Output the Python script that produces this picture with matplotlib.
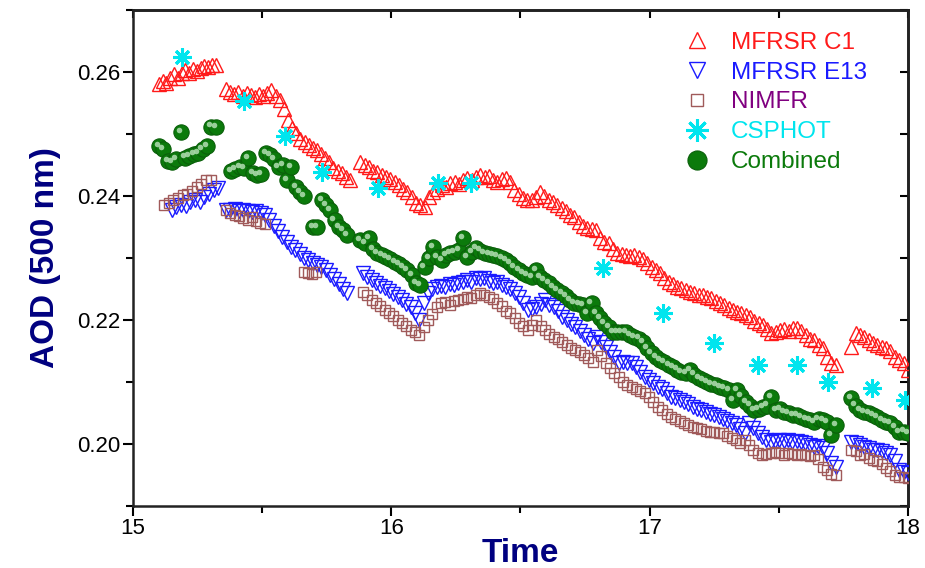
import matplotlib
matplotlib.use('Agg')
import matplotlib.pyplot as plt
import matplotlib.transforms as mtransforms
from matplotlib.ticker import MultipleLocator
import numpy as np

plt.rcParams['font.family'] = ['Liberation Sans', 'DejaVu Sans']

# AOD at 500 nm, one reading per minute, split where the record has gaps
# MFRSR C1 (red up-triangles)
c1_spans = [(15.10, 15.32), (15.36, 15.84), (15.88, 17.72), (17.78, 18.00)]
c1_vals = [
    [0.2580, 0.2585, 0.2583, 0.2591, 0.2596, 0.2590, 0.2599, 0.2603, 0.2598, 0.2605, 0.2601, 0.2607,
     0.2610, 0.2608, 0.2612, 0.2611],
    [0.2572, 0.2568, 0.2565, 0.2567, 0.2562, 0.2566, 0.2563, 0.2560, 0.2564, 0.2561, 0.2566, 0.2571,
     0.2562, 0.2555, 0.2540, 0.2523, 0.2510, 0.2502, 0.2492, 0.2487, 0.2482, 0.2478, 0.2474, 0.2468,
     0.2461, 0.2455, 0.2445, 0.2441, 0.2437, 0.2430, 0.2426],
    [0.2455, 0.2450, 0.2446, 0.2441, 0.2438, 0.2434, 0.2431, 0.2427, 0.2423, 0.2418, 0.2412, 0.2406,
     0.2398, 0.2389, 0.2385, 0.2382, 0.2398, 0.2406, 0.2412, 0.2418, 0.2415, 0.2421, 0.2423, 0.2420,
     0.2426, 0.2429, 0.2425, 0.2431, 0.2434, 0.2430, 0.2432, 0.2426, 0.2423, 0.2428, 0.2429, 0.2422,
     0.2410, 0.2404, 0.2397, 0.2393, 0.2394, 0.2398, 0.2406, 0.2400, 0.2394, 0.2390, 0.2386, 0.2381,
     0.2376, 0.2370, 0.2366, 0.2358, 0.2352, 0.2348, 0.2346, 0.2345, 0.2332, 0.2326, 0.2324, 0.2314,
     0.2308, 0.2306, 0.2305, 0.2303, 0.2305, 0.2302, 0.2298, 0.2292, 0.2286, 0.2280, 0.2276, 0.2268,
     0.2262, 0.2258, 0.2254, 0.2252, 0.2248, 0.2245, 0.2243, 0.2241, 0.2240, 0.2237, 0.2235, 0.2231,
     0.2227, 0.2224, 0.2219, 0.2216, 0.2213, 0.2211, 0.2208, 0.2205, 0.2198, 0.2195, 0.2192, 0.2186,
     0.2179, 0.2181, 0.2184, 0.2186, 0.2183, 0.2187, 0.2187, 0.2182, 0.2176, 0.2170, 0.2168, 0.2160,
     0.2155, 0.2140, 0.2131, 0.2127],
    [0.2156, 0.2179, 0.2176, 0.2173, 0.2168, 0.2163, 0.2160, 0.2156, 0.2155, 0.2150, 0.2140, 0.2135,
     0.2131, 0.2119],
]

# MFRSR E13 (blue down-triangles)
e13_spans = [(15.15, 15.33), (15.36, 15.83), (15.89, 17.72), (17.78, 18.00)]
e13_vals = [
    [0.2378, 0.2382, 0.2386, 0.2384, 0.2390, 0.2393, 0.2391, 0.2398, 0.2404, 0.2410, 0.2413],
    [0.2378, 0.2377, 0.2379, 0.2376, 0.2378, 0.2375, 0.2374, 0.2376, 0.2373, 0.2370, 0.2362, 0.2352,
     0.2343, 0.2334, 0.2325, 0.2318, 0.2313, 0.2306, 0.2300, 0.2297, 0.2292, 0.2288, 0.2285, 0.2280,
     0.2273, 0.2266, 0.2258, 0.2250, 0.2244],
    [0.2276, 0.2270, 0.2265, 0.2260, 0.2255, 0.2252, 0.2247, 0.2242, 0.2237, 0.2232, 0.2226, 0.2221,
     0.2212, 0.2200, 0.2228, 0.2244, 0.2250, 0.2253, 0.2255, 0.2253, 0.2258, 0.2256, 0.2260, 0.2262,
     0.2265, 0.2262, 0.2268, 0.2266, 0.2268, 0.2263, 0.2260, 0.2262, 0.2257, 0.2253, 0.2250, 0.2244,
     0.2237, 0.2228, 0.2216, 0.2218, 0.2221, 0.2226, 0.2232, 0.2224, 0.2221, 0.2214, 0.2205, 0.2200,
     0.2194, 0.2189, 0.2183, 0.2176, 0.2170, 0.2163, 0.2173, 0.2165, 0.2156, 0.2148, 0.2140, 0.2131,
     0.2133, 0.2131, 0.2130, 0.2124, 0.2116, 0.2108, 0.2103, 0.2098, 0.2092, 0.2088, 0.2082, 0.2076,
     0.2074, 0.2071, 0.2068, 0.2064, 0.2060, 0.2057, 0.2054, 0.2052, 0.2049, 0.2046, 0.2044, 0.2040,
     0.2037, 0.2034, 0.2030, 0.2024, 0.2018, 0.2034, 0.2026, 0.2018, 0.2011, 0.2007, 0.2003, 0.2005,
     0.2006, 0.2004, 0.2006, 0.2003, 0.2005, 0.2003, 0.2001, 0.1999, 0.1995, 0.1997, 0.1994, 0.1985,
     0.1969, 0.1963],
    [0.2003, 0.2001, 0.1998, 0.1995, 0.1993, 0.1990, 0.1991, 0.1988, 0.1985, 0.1983, 0.1972, 0.1958,
     0.1955, 0.1953],
]

# NIMFR (brown squares), nan where no reading
nimfr_spans = [(15.12, 15.30), (15.36, 15.71), (15.89, 17.72), (17.78, 18.00)]
nimfr_vals = [
    [0.2385, 0.2388, 0.2393, 0.2397, 0.2401, 0.2404, 0.2408, 0.2414, 0.2420, 0.2425, 0.2426],
    [0.2377, 0.2372, 0.2370, 0.2368, 0.2365, 0.2362, 0.2366, 0.2360, 0.2357, 0.2355,
     np.nan, np.nan, np.nan, np.nan, np.nan, np.nan, np.nan, np.nan,
     0.2278, 0.2276, 0.2274, 0.2277],
    [0.2245, 0.2240, 0.2232, 0.2228, 0.2222, 0.2216, 0.2212, 0.2206, 0.2200, 0.2195, 0.2190, 0.2184,
     0.2180, 0.2176, 0.2188, 0.2200, 0.2210, 0.2221, 0.2227, 0.2229, 0.2224, 0.2230, 0.2232, 0.2234,
     0.2237, 0.2235, 0.2240, 0.2244, 0.2241, 0.2237, 0.2234, 0.2227, 0.2222, 0.2215, 0.2211, 0.2203,
     0.2195, 0.2190, 0.2184, 0.2192, 0.2200, 0.2190, 0.2184, 0.2178, 0.2173, 0.2169, 0.2165, 0.2160,
     0.2155, 0.2152, 0.2148, 0.2144, 0.2138, 0.2132, 0.2152, 0.2142, 0.2131, 0.2122, 0.2115, 0.2108,
     0.2100, 0.2095, 0.2092, 0.2088, 0.2085, 0.2082, 0.2076, 0.2068, 0.2060, 0.2054, 0.2049, 0.2044,
     0.2040, 0.2037, 0.2034, 0.2031, 0.2028, 0.2026, 0.2024, 0.2021, 0.2019, 0.2020, 0.2018, 0.2017,
     0.2013, 0.2010, 0.2007, 0.2002, 0.2006, 0.1998, 0.1990, 0.1986, 0.1982, 0.1984, 0.1985, 0.1987,
     0.1985, 0.1983, 0.1985, 0.1984, 0.1982, 0.1984, 0.1982, 0.1980, 0.1983, 0.1975, 0.1963, 0.1958,
     0.1952, 0.1950],
    [0.1990, 0.1988, 0.1982, 0.1984, 0.1978, 0.1974, 0.1972, 0.1967, 0.1961, 0.1956, 0.1950, 0.1947,
     0.1946, 0.1945],
]

# CSPHOT (cyan asterisks), sparse
csphot_t = [15.19, 15.43, 15.59, 15.73, 15.95, 16.18, 16.31, 16.82, 17.05, 17.25, 17.42, 17.57,
            17.69, 17.86, 17.99]
csphot_v = [0.2624, 0.2553, 0.2496, 0.2439, 0.2413, 0.2421, 0.2421, 0.2284, 0.2212, 0.2163, 0.2127,
            0.2127, 0.2100, 0.2090, 0.2071]

# Combined (green spheres)
comb_spans = [(15.10, 15.32), (15.38, 15.83), (15.88, 17.72), (17.78, 18.00)]
comb_vals = [
    [0.2480, 0.2476, 0.2457, 0.2455, 0.2460, 0.2503, 0.2462, 0.2465, 0.2468, 0.2470, 0.2475, 0.2480,
     0.2512, 0.2511],
    [0.2440, 0.2444, 0.2446, 0.2445, 0.2461, 0.2437, 0.2434, 0.2435, 0.2469, 0.2466, 0.2460, 0.2447,
     0.2450, 0.2426, 0.2447, 0.2415, 0.2406, 0.2400, np.nan, 0.2350, 0.2350, 0.2394, 0.2385, 0.2377,
     0.2361, 0.2350, 0.2345, 0.2337],
    [0.2329, 0.2324, 0.2332, 0.2315, 0.2308, 0.2305, 0.2302, 0.2298, 0.2294, 0.2290, 0.2285, 0.2281,
     0.2272, 0.2260, 0.2256, 0.2285, 0.2300, 0.2318, 0.2302, 0.2297, 0.2305, 0.2308, 0.2310, 0.2313,
     0.2332, 0.2302, 0.2310, 0.2316, 0.2312, 0.2308, 0.2306, 0.2305, 0.2303, 0.2300, 0.2297, 0.2292,
     0.2285, 0.2280, 0.2276, 0.2272, 0.2269, 0.2281, 0.2270, 0.2265, 0.2260, 0.2253, 0.2249, 0.2244,
     0.2238, 0.2232, 0.2227, 0.2225, 0.2224, 0.2211, 0.2227, 0.2211, 0.2203, 0.2195, 0.2188, 0.2181,
     0.2181, 0.2180, 0.2181, 0.2176, 0.2173, 0.2170, 0.2165, 0.2155, 0.2146, 0.2140, 0.2136, 0.2132,
     0.2128, 0.2124, 0.2120, 0.2116, 0.2114, 0.2119, 0.2112, 0.2106, 0.2103, 0.2100, 0.2097, 0.2095,
     0.2092, 0.2090, 0.2087, 0.2071, 0.2087, 0.2078, 0.2068, 0.2062, 0.2055, 0.2057, 0.2060, 0.2062,
     0.2076, 0.2055, 0.2056, 0.2052, 0.2050, 0.2047, 0.2046, 0.2043, 0.2040, 0.2039, 0.2036, 0.2040,
     0.2038, 0.2035, 0.2015, 0.2030],
    [0.2074, 0.2062, 0.2055, 0.2052, 0.2050, 0.2047, 0.2043, 0.2039, 0.2036, 0.2034, 0.2028, 0.2019,
     0.2020, 0.2018],
]


def join_segments(spans, vals):
    # each segment is sampled evenly between its start and end time
    t, v = [], []
    for (t0, t1), seg in zip(spans, vals):
        t.extend(np.linspace(t0, t1, len(seg)))
        v.extend(seg)
    return np.array(t), np.array(v)


fig = plt.figure(figsize=(9.25, 5.68), dpi=100)
ax = fig.add_axes([0.1438, 0.1092, 0.8378, 0.8732])

t, v = join_segments(c1_spans, c1_vals)
ax.plot(t, v, ls='none', marker='^', ms=9.5, mfc='none', mec='#ff1a1a', mew=1.0, label='MFRSR C1', zorder=3)

t, v = join_segments(e13_spans, e13_vals)
ax.plot(t, v, ls='none', marker='v', ms=9.5, mfc='none', mec='#1a1aff', mew=1.0, label='MFRSR E13', zorder=3)

t, v = join_segments(nimfr_spans, nimfr_vals)
ax.plot(t, v, ls='none', marker='s', ms=7, mfc='none', mec='#a05a5a', mew=1.0, label='NIMFR', zorder=3)

ax.plot(csphot_t, csphot_v, ls='none', marker=(8, 2, 0), ms=13, mec='#00e5ee', mew=2.2,
        label='CSPHOT', zorder=4)

t, v = join_segments(comb_spans, comb_vals)
ax.plot(t, v, ls='none', marker='o', ms=11, mfc='#0b7a0b', mec='#0a5f0a', mew=0.8,
        label='Combined', zorder=5)
# small highlight on each sphere
shine = mtransforms.offset_copy(ax.transData, fig=fig, x=-1.5, y=1.5, units='points')
ax.plot(t, v, ls='none', marker='o', ms=4, mfc='#a8d8a8', mec='none', alpha=0.9,
        transform=shine, zorder=6)

ax.set_xlim(15, 18)
ax.set_ylim(0.19, 0.27)
ax.set_xticks([15, 16, 17, 18])
ax.set_yticks([0.20, 0.22, 0.24, 0.26])
ax.xaxis.set_minor_locator(MultipleLocator(0.5))
ax.yaxis.set_minor_locator(MultipleLocator(0.01))
ax.tick_params(which='major', direction='out', length=7, width=1.5, labelsize=16, pad=2)
ax.tick_params(which='minor', direction='out', length=5, width=1.5)

# mirrored ticks on top and right point inward
top = ax.secondary_xaxis('top')
top.set_xticks([15, 16, 17, 18])
top.xaxis.set_minor_locator(MultipleLocator(0.5))
top.tick_params(which='both', direction='in', length=6, width=1.5, labeltop=False)
right = ax.secondary_yaxis('right')
right.set_yticks([0.20, 0.22, 0.24, 0.26])
right.yaxis.set_minor_locator(MultipleLocator(0.01))
right.tick_params(which='both', direction='in', length=6, width=1.5, labelright=False)

for s in ax.spines.values():
    s.set_linewidth(1.8)
    s.set_color('#222222')
top.spines['top'].set_linewidth(1.8)
right.spines['right'].set_linewidth(1.8)

ax.set_xlabel('Time', fontsize=24, fontweight='bold', color='#000080', labelpad=-1)
ax.set_ylabel('AOD (500 nm)', fontsize=24, fontweight='bold', color='#000080', labelpad=12)

leg = ax.legend(loc='upper right', frameon=False, fontsize=17.5, handletextpad=0.4,
                labelspacing=0.32, borderaxespad=0.5, markerscale=1.25,
                bbox_to_anchor=(0.975, 1.0))
for txt, col in zip(leg.get_texts(), ['#ff1a1a', '#1a1aff', '#800080', '#00e5ee', '#0b7a0b']):
    txt.set_color(col)

fig.savefig('out.png', dpi=100)
